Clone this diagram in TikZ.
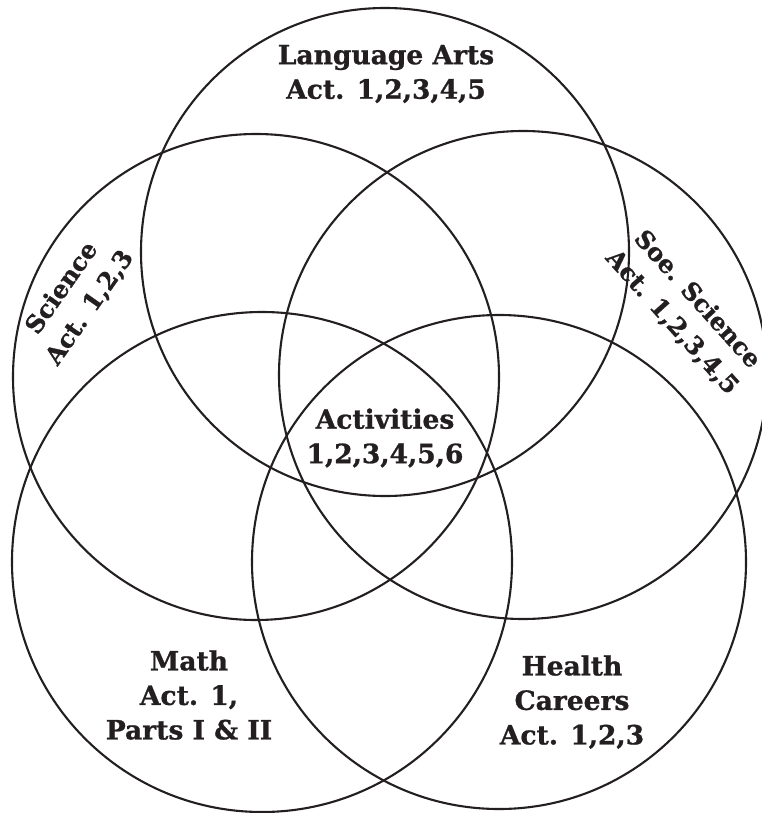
\documentclass[tikz,border=0pt]{standalone}
\usepackage{fontspec}
\setmainfont{DejaVu Serif}
\newfontfamily\lblfont{DejaVu Serif}[UprightFont=* Bold, FakeBold=0.9]
\definecolor{ink}{HTML}{231F20}
\begin{document}
\begin{tikzpicture}[x=1pt,y=-1pt,
  ring/.style={draw=ink, line width=2.1pt},
  lbl/.style={font=\lblfont\fontsize{26.5}{34.5}\selectfont, align=center, inner sep=0pt, text=ink},
  tilted/.style={lbl, font=\lblfont\fontsize{24.5}{34}\selectfont}]
\useasboundingbox (0,0) rectangle (762,813);
\begin{scope}
\clip (0,0) rectangle (762,813);
\draw[ring] (385,252) circle[radius=244];
\draw[ring] (256,377) circle[radius=243];
\draw[ring] (523,375) circle[radius=244];
\draw[ring] (262,562) circle[radius=250];
\draw[ring] (499,562) circle[radius=247];
\end{scope}
\node[lbl] (la) at (386,74) {Language Arts\\Act. 1,2,3,4,5};
\node[lbl] (act) at (385,438) {Activities\\1,2,3,4,5,6};
\node[lbl] (math) at (189,695) {Math\\Act. 1,\\Parts I \& II};
\node[lbl] (health) at (572,702) {Health\\Careers\\Act. 1,2,3};
\node[tilted, rotate=55] (sci) at (76,298) {Science\\Act. 1,2,3};
\node[tilted, rotate=-48] (soc) at (684.5,311) {Soe. Science\\Act. 1,2,3,4,5};
\end{tikzpicture}
\end{document}
